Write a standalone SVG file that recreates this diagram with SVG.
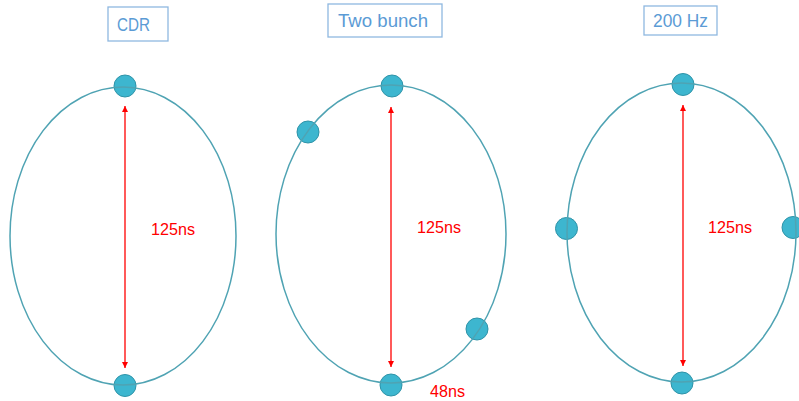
<svg xmlns="http://www.w3.org/2000/svg" width="799" height="401" viewBox="0 0 799 401">
  <style>
    .ring { fill: none; stroke: #4fa3b3; stroke-width: 1.5; }
    .bunch { fill: #3db6cf; stroke: #2f93a8; stroke-width: 1; }
    .title-box { fill: #ffffff; stroke: #8fb8e0; stroke-width: 1.3; }
    .title { font-family: "Liberation Sans", Arial, sans-serif; font-size: 18px; fill: #5b9bd5; }
    .span { stroke: #ff0000; stroke-width: 1.3; marker-start: url(#head); marker-end: url(#head); }
    .time { font-family: "Liberation Sans", Arial, sans-serif; font-size: 17px; fill: #ff0000; }
  </style>
  <defs>
    <marker id="head" viewBox="0 0 10 10" refX="10" refY="5" markerWidth="6" markerHeight="6" markerUnits="userSpaceOnUse" orient="auto-start-reverse">
      <path d="M0,0 L10,5 L0,10 z" fill="#ff0000"/>
    </marker>
  </defs>

  <rect width="799" height="401" fill="#ffffff"/>

  <!-- CDR -->
  <g id="cdr">
    <rect class="title-box" x="108" y="7" width="60" height="34"/>
    <text class="title" x="117" y="31" textLength="33" lengthAdjust="spacingAndGlyphs">CDR</text>
    <circle class="bunch" cx="125" cy="86" r="11"/>
    <circle class="bunch" cx="125" cy="385.5" r="11"/>
    <ellipse class="ring" cx="123" cy="236" rx="113" ry="149"/>
  </g>

  <!-- Two bunch -->
  <g id="two-bunch">
    <rect class="title-box" x="328" y="4" width="114" height="33"/>
    <text class="title" x="338" y="27" textLength="90" lengthAdjust="spacingAndGlyphs">Two bunch</text>
    <circle class="bunch" cx="392" cy="86" r="11"/>
    <circle class="bunch" cx="391" cy="385" r="11"/>
    <circle class="bunch" cx="308" cy="132" r="11"/>
    <circle class="bunch" cx="477" cy="329" r="11"/>
    <ellipse class="ring" cx="391" cy="234" rx="115" ry="149"/>
  </g>

  <!-- 200 Hz -->
  <g id="hz200">
    <rect class="title-box" x="644" y="6" width="73" height="29"/>
    <text class="title" x="653" y="27" textLength="55" lengthAdjust="spacingAndGlyphs">200 Hz</text>
    <circle class="bunch" cx="683" cy="84.5" r="11"/>
    <circle class="bunch" cx="682" cy="383" r="11"/>
    <circle class="bunch" cx="566.5" cy="228.5" r="11"/>
    <circle class="bunch" cx="793" cy="227.5" r="11"/>
    <ellipse class="ring" cx="681.5" cy="232.5" rx="114.5" ry="149.5"/>
  </g>

  <!-- spacing arrows and time labels -->
  <g id="connectors">
    <line class="span" x1="125" y1="106" x2="125" y2="368"/>
    <line class="span" x1="391" y1="107" x2="391" y2="367"/>
    <line class="span" x1="683" y1="105" x2="683" y2="366"/>
  </g>
  <g id="labels">
    <text class="time" x="151" y="235" textLength="44" lengthAdjust="spacingAndGlyphs">125ns</text>
    <text class="time" x="417" y="233" textLength="44" lengthAdjust="spacingAndGlyphs">125ns</text>
    <text class="time" x="708" y="233" textLength="44" lengthAdjust="spacingAndGlyphs">125ns</text>
    <text class="time" x="430" y="397" textLength="35" lengthAdjust="spacingAndGlyphs">48ns</text>
  </g>
</svg>
